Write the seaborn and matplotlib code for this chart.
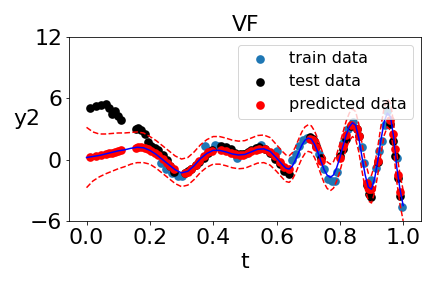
import numpy as np
import pandas as pd
import seaborn as sns
import matplotlib
matplotlib.use("Agg")
import matplotlib.pyplot as plt

# mean prediction curve and half width of the band
t_grid = [0.00, 0.02, 0.04, 0.06, 0.08, 0.10, 0.12, 0.14, 0.16, 0.18,
          0.20, 0.22, 0.24, 0.26, 0.28, 0.30, 0.32, 0.34, 0.36, 0.38,
          0.40, 0.42, 0.44, 0.46, 0.48, 0.50, 0.52, 0.54, 0.56, 0.58,
          0.60, 0.61, 0.62, 0.63, 0.64, 0.65, 0.66, 0.67, 0.68, 0.69,
          0.70, 0.71, 0.72, 0.73, 0.74, 0.75, 0.76, 0.77, 0.78, 0.79,
          0.80, 0.81, 0.82, 0.83, 0.84, 0.85, 0.86, 0.87, 0.88, 0.89,
          0.90, 0.91, 0.92, 0.93, 0.94, 0.95, 0.96, 0.97, 0.98, 0.99, 1.00]
mean_y = [0.2, 0.3, 0.4, 0.55, 0.7, 0.85, 0.95, 1.1, 1.2, 1.15,
          0.9, 0.5, 0.0, -0.5, -1.0, -1.3, -1.15, -0.6, 0.1, 0.6,
          0.9, 0.9, 0.75, 0.55, 0.45, 0.5, 0.75, 1.0, 1.05, 0.8,
          0.15, -0.2, -0.55, -0.85, -0.93, -0.64, -0.05, 0.7, 1.4, 1.9,
          2.1, 2.0, 1.5, 0.76, -0.13, -0.96, -1.53, -1.75, -1.5, -0.8,
          0.18, 1.33, 2.4, 3.2, 3.6, 3.34, 2.1, 0.25, -1.5, -2.7,
          -2.9, -1.85, -0.1, 1.95, 3.7, 4.55, 4.2, 2.2, -0.8, -2.9, -4.5]
half_w = [2.95, 2.4, 2.1, 1.95, 1.85, 1.75, 1.65, 1.55, 1.5, 1.45,
          1.35, 1.35, 1.35, 1.35, 1.35, 1.35, 1.35, 1.35, 1.35, 1.35,
          1.35, 1.35, 1.35, 1.35, 1.35, 1.35, 1.35, 1.35, 1.35, 1.35,
          1.3, 1.3, 1.3, 1.3, 1.3, 1.3, 1.3, 1.3, 1.3, 1.3,
          1.3, 1.3, 1.3, 1.3, 1.3, 1.3, 1.3, 1.3, 1.3, 1.3,
          1.35, 1.35, 1.35, 1.35, 1.35, 1.35, 1.35, 1.35, 1.35, 1.35,
          1.35, 1.35, 1.35, 1.35, 1.35, 1.35, 1.35, 1.35, 1.4, 1.45, 1.5]

train_t = [0.235, 0.25, 0.27, 0.29, 0.303, 0.375, 0.405, 0.415, 0.475, 0.50,
           0.55, 0.60, 0.65, 0.66, 0.67, 0.685, 0.697, 0.716, 0.735, 0.75,
           0.763, 0.775, 0.785, 0.79, 0.81, 0.825, 0.843, 0.87, 0.875, 0.90,
           0.915, 0.925, 0.933, 0.942, 0.95, 0.98, 0.997]
train_y = [-0.3, -0.9, -1.3, -1.6, -1.65, 1.3, 1.4, 1.3, 0.2, 0.5,
           1.4, 0.8, 0.0, 0.5, 1.3, 1.9, 2.1, 1.9, 0.5, -0.9,
           -1.9, -2.1, -2.1, -1.2, 1.6, 3.0, 3.7, 1.2, -0.3, -2.0,
           -0.8, 0.8, 1.8, 3.4, 4.7, 0.2, -4.6]

test_t = [0.010, 0.030, 0.045, 0.060, 0.072, 0.080, 0.090, 0.098, 0.108,
          0.155, 0.163, 0.172, 0.185, 0.195, 0.205, 0.215, 0.225, 0.240, 0.255,
          0.265, 0.275, 0.310, 0.320, 0.330, 0.345, 0.355, 0.370, 0.385, 0.395,
          0.425, 0.440, 0.455, 0.470, 0.485, 0.495, 0.510, 0.520, 0.535, 0.545,
          0.565, 0.580, 0.595, 0.610, 0.625, 0.640, 0.705, 0.715, 0.725, 0.740,
          0.800, 0.810, 0.820, 0.835, 0.855, 0.862, 0.885, 0.893, 0.898, 0.920,
          0.960, 0.968, 0.975, 0.985, 0.990]
test_y = [5.0, 5.2, 5.3, 5.4, 5.0, 4.5, 4.7, 4.3, 3.9,
          3.0, 3.1, 2.9, 2.5, 1.7, 1.3, 1.1, 0.9, 0.4, 0.0,
          -0.6, -1.2, -1.3, -1.1, -0.9, -0.5, -0.2, 0.2, 0.6, 0.9,
          1.3, 1.2, 1.0, 0.6, 0.5, 0.5, 0.7, 0.9, 1.1, 1.2,
          1.0, 0.6, 0.1, -0.4, -1.1, -1.4, 2.2, 2.0, 1.3, 0.2,
          0.3, 1.0, 2.0, 3.3, 3.0, 2.3, -2.5, -3.4, -3.7, -0.2,
          3.5, 1.8, 0.3, -1.8, -3.6]
pred_y = [0.25, 0.33, 0.4, 0.5, 0.6, 0.65, 0.75, 0.8, 0.9,
          1.15, 1.2, 1.18, 1.1, 1.0, 0.85, 0.65, 0.45, 0.05, -0.35,
          -0.6, -0.9, -1.3, -1.2, -0.95, -0.5, -0.15, 0.35, 0.7, 0.85,
          0.95, 0.8, 0.65, 0.5, 0.45, 0.45, 0.65, 0.8, 0.95, 1.0,
          1.0, 0.75, 0.3, -0.2, -0.7, -0.9, 2.05, 1.9, 1.2, -0.1,
          0.2, 1.3, 2.4, 3.4, 3.0, 2.3, -2.3, -2.9, -2.9, -0.1,
          3.9, 2.5, 1.0, -1.5, -3.2]

curve = pd.DataFrame({"t": t_grid, "mean": mean_y, "w": half_w})
curve["upper"] = curve["mean"] + curve["w"]
curve["lower"] = curve["mean"] - curve["w"]

fig, ax = plt.subplots(figsize=(6, 4), dpi=72)
fig.subplots_adjust(left=0.16, right=0.975, top=0.872, bottom=0.233)

sns.scatterplot(x=train_t, y=train_y, color="#1f77b4", s=75, linewidth=0, label="train data", ax=ax)
sns.scatterplot(x=test_t, y=test_y, color="black", s=75, linewidth=0, label="test data", ax=ax)
sns.scatterplot(x=test_t, y=pred_y, color="red", s=75, linewidth=0, label="predicted data", ax=ax)
sns.lineplot(data=curve, x="t", y="mean", color="blue", lw=1.5, ax=ax)
sns.lineplot(data=curve, x="t", y="upper", color="red", lw=1.5, linestyle="--", ax=ax)
sns.lineplot(data=curve, x="t", y="lower", color="red", lw=1.5, linestyle="--", ax=ax)

ax.set_xlim(-0.055, 1.057)
ax.set_ylim(-6, 12)
ax.set_yticks([-6, 0, 6, 12])
ax.set_xticks([0.0, 0.2, 0.4, 0.6, 0.8, 1.0])
ax.tick_params(labelsize=22)
ax.set_title("VF", fontsize=22)
ax.set_xlabel("t", fontsize=22)
ax.set_ylabel("y2", fontsize=22, rotation=0)
ax.yaxis.set_label_coords(-0.12, 0.5)
ax.legend(loc="upper right", fontsize=16)

plt.savefig("out.png", dpi=72)
plt.close()
